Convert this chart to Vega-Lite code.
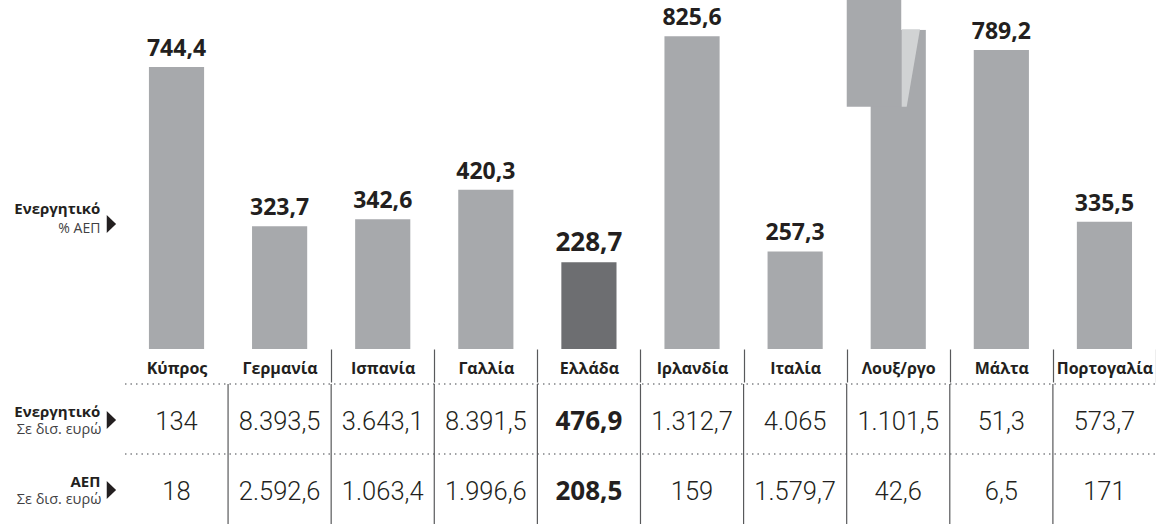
{
  "$schema": "https://vega.github.io/schema/vega-lite/v6.json",
  "padding": 0,
  "spacing": 0,
  "background": "white",
  "config": {
    "view": {"stroke": null},
    "font": "Open Sans",
    "locale": {"number": {"decimal": ",", "thousands": ".", "grouping": [3], "currency": ["", " €"]}}
  },
  "datasets": {
    "c": [
      {"country": "Κύπρος", "pct": 744.4, "assets": 134, "gdp": 18},
      {"country": "Γερμανία", "pct": 323.7, "assets": 8393.5, "gdp": 2592.6},
      {"country": "Ισπανία", "pct": 342.6, "assets": 3643.1, "gdp": 1063.4},
      {"country": "Γαλλία", "pct": 420.3, "assets": 8391.5, "gdp": 1996.6},
      {"country": "Ελλάδα", "pct": 228.7, "assets": 476.9, "gdp": 208.5},
      {"country": "Ιρλανδία", "pct": 825.6, "assets": 1312.7, "gdp": 159},
      {"country": "Ιταλία", "pct": 257.3, "assets": 4065, "gdp": 1579.7},
      {"country": "Λουξ/ργο", "pct": 2585.7, "assets": 1101.5, "gdp": 42.6},
      {"country": "Μάλτα", "pct": 789.2, "assets": 51.3, "gdp": 6.5},
      {"country": "Πορτογαλία", "pct": 335.5, "assets": 573.7, "gdp": 171}
    ],
    "lab": [
      {"section": "top", "row": "", "head": "Ενεργητικό", "sub": "% ΑΕΠ"},
      {"section": "table", "row": "assets", "head": "Ενεργητικό", "sub": "Σε δισ. ευρώ"},
      {"section": "table", "row": "gdp", "head": "ΑΕΠ", "sub": "Σε δισ. ευρώ"}
    ]
  },
  "vconcat": [
    {
      "width": 1156,
      "height": 349,
      "layer": [
        {
          "data": {"name": "c"},
          "mark": {"type": "bar", "width": {"band": 0.535}, "clip": true},
          "encoding": {
            "x": {
              "field": "country", "type": "nominal", "sort": null,
              "scale": {"domain": ["_lbl", "Κύπρος", "Γερμανία", "Ισπανία", "Γαλλία", "Ελλάδα", "Ιρλανδία", "Ιταλία", "Λουξ/ργο", "Μάλτα", "Πορτογαλία"], "paddingInner": 0, "paddingOuter": 0.106, "align": 1},
              "axis": {
                "title": null, "domain": false, "grid": false, "labelAngle": 0,
                "labelFont": "Open Sans", "labelFontWeight": "bold", "labelFontSize": 16, "labelColor": "#231f20",
                "labelBaseline": "alphabetic", "labelPadding": -9, "labelOverlap": false, "labelFlush": false, "labelBound": false,
                "labelExpr": "datum.value === '_lbl' ? '' : datum.label",
                "tickSize": 33, "tickBand": "extent", "tickWidth": 1.2,
                "tickColor": {"condition": {"test": "datum.value === '_lbl' || datum.value === 'Κύπρος' || !datum.value", "value": "transparent"}, "value": "#58595b"}
              }
            },
            "y": {"field": "pct", "type": "quantitative", "scale": {"domain": [0, 921], "nice": false, "clamp": true}, "axis": null},
            "color": {"condition": {"test": "datum.country === 'Ελλάδα'", "value": "#6d6e71"}, "value": "#a7a9ac"}
          }
        },
        {
          "data": {"name": "c"},
          "transform": [{"filter": "datum.country === 'Λουξ/ργο'"}],
          "mark": {"type": "bar", "width": 55, "xOffset": -24, "color": "#a7a9ac"},
          "encoding": {
            "x": {"field": "country", "type": "nominal"},
            "y": {"datum": 639, "type": "quantitative"},
            "y2": {"datum": 921}
          }
        },
        {
          "data": {"name": "c"},
          "transform": [{"filter": "datum.country === 'Λουξ/ργο'"}],
          "mark": {"type": "bar", "width": 25, "xOffset": 15.5, "color": "white"},
          "encoding": {
            "x": {"field": "country", "type": "nominal"},
            "y": {"datum": 842, "type": "quantitative"},
            "y2": {"datum": 921}
          }
        },
        {
          "data": {"name": "c"},
          "transform": [{"filter": "datum.country === 'Λουξ/ργο'"}],
          "mark": {"type": "point", "filled": true, "opacity": 1, "color": "#d1d3d4", "size": 6000, "xOffset": 12.6, "shape": "M -0.236 -1 L 0.236 -1 L -0.107 1 L -0.236 1 Z"},
          "encoding": {
            "x": {"field": "country", "type": "nominal"},
            "y": {"datum": 741.8, "type": "quantitative"}
          }
        },
        {
          "data": {"name": "c"},
          "transform": [{"filter": "datum.country !== 'Λουξ/ργο' && datum.country !== 'Ελλάδα'"}],
          "mark": {"type": "text", "baseline": "alphabetic", "dy": -11, "font": "Open Sans", "fontWeight": "bold", "fontSize": 23, "color": "#231f20"},
          "encoding": {
            "x": {"field": "country", "type": "nominal"},
            "y": {"field": "pct", "type": "quantitative"},
            "text": {"field": "pct", "type": "quantitative", "format": ",.1f"}
          }
        },
        {
          "data": {"name": "c"},
          "transform": [{"filter": "datum.country === 'Ελλάδα'"}],
          "mark": {"type": "text", "baseline": "alphabetic", "dy": -11, "font": "Open Sans", "fontWeight": "bold", "fontSize": 26, "color": "#231f20"},
          "encoding": {
            "x": {"field": "country", "type": "nominal"},
            "y": {"field": "pct", "type": "quantitative"},
            "text": {"field": "pct", "type": "quantitative", "format": ",.1f"}
          }
        },
        {
          "data": {"name": "lab"},
          "transform": [{"filter": "datum.section === 'top'"}],
          "mark": {"type": "text", "align": "right", "baseline": "alphabetic", "dx": 27, "dy": -7, "font": "Open Sans", "fontWeight": "bold", "fontSize": 15, "color": "#231f20"},
          "encoding": {
            "x": {"datum": "_lbl", "type": "nominal"},
            "y": {"datum": 339, "type": "quantitative"},
            "text": {"field": "head"}
          }
        },
        {
          "data": {"name": "lab"},
          "transform": [{"filter": "datum.section === 'top'"}],
          "mark": {"type": "text", "align": "right", "baseline": "alphabetic", "dx": 27, "dy": 12, "font": "Open Sans", "fontSize": 14, "color": "#414042"},
          "encoding": {
            "x": {"datum": "_lbl", "type": "nominal"},
            "y": {"datum": 339, "type": "quantitative"},
            "text": {"field": "sub"}
          }
        },
        {
          "data": {"name": "lab"},
          "transform": [{"filter": "datum.section === 'top'"}],
          "mark": {"type": "point", "filled": true, "opacity": 1, "color": "#231f20", "size": 324, "xOffset": 38, "yOffset": 3.4, "shape": "M -0.52 -1 L 0.52 0 L -0.52 1 Z"},
          "encoding": {
            "x": {"datum": "_lbl", "type": "nominal"},
            "y": {"datum": 339, "type": "quantitative"}
          }
        }
      ]
    },
    {
      "width": 1156,
      "height": 140,
      "layer": [
        {
          "data": {"name": "lab"},
          "transform": [{"filter": "datum.section === 'table'"}],
          "mark": {"type": "rule", "color": "#808285", "strokeWidth": 1.5, "strokeDash": [1.5, 4]},
          "encoding": {
            "x": {"datum": "Κύπρος", "type": "nominal", "bandPosition": 0,
              "scale": {"domain": ["_lbl", "Κύπρος", "Γερμανία", "Ισπανία", "Γαλλία", "Ελλάδα", "Ιρλανδία", "Ιταλία", "Λουξ/ργο", "Μάλτα", "Πορτογαλία"], "paddingInner": 0, "paddingOuter": 0.106, "align": 1},
              "axis": null},
            "x2": {"value": "width"},
            "y": {"field": "row", "type": "nominal", "bandPosition": 0, "scale": {"domain": ["assets", "gdp"], "paddingInner": 0, "paddingOuter": 0}, "axis": null}
          }
        },
        {
          "data": {"name": "c"},
          "transform": [{"filter": "datum.country !== 'Κύπρος'"}],
          "mark": {"type": "rule", "color": "#58595b", "strokeWidth": 1.2},
          "encoding": {
            "x": {"field": "country", "type": "nominal", "bandPosition": 0}
          }
        },
        {
          "data": {"name": "c"},
          "transform": [
            {"fold": ["assets", "gdp"], "as": ["row", "val"]},
            {"filter": "datum.country !== 'Ελλάδα'"}
          ],
          "mark": {"type": "text", "baseline": "alphabetic", "dy": 11, "font": "Roboto", "fontWeight": 300, "fontSize": 25.5, "color": "#231f20"},
          "encoding": {
            "x": {"field": "country", "type": "nominal"},
            "y": {"field": "row", "type": "nominal"},
            "text": {"field": "val", "type": "quantitative", "format": ",.1~f"}
          }
        },
        {
          "data": {"name": "c"},
          "transform": [
            {"fold": ["assets", "gdp"], "as": ["row", "val"]},
            {"filter": "datum.country === 'Ελλάδα'"}
          ],
          "mark": {"type": "text", "baseline": "alphabetic", "dy": 11, "font": "Open Sans", "fontWeight": "bold", "fontSize": 26, "color": "#231f20"},
          "encoding": {
            "x": {"field": "country", "type": "nominal"},
            "y": {"field": "row", "type": "nominal"},
            "text": {"field": "val", "type": "quantitative", "format": ",.1~f"}
          }
        },
        {
          "data": {"name": "lab"},
          "transform": [{"filter": "datum.section === 'table'"}],
          "mark": {"type": "text", "align": "right", "baseline": "alphabetic", "dx": 27, "dy": -2.5, "font": "Open Sans", "fontWeight": "bold", "fontSize": 15, "color": "#231f20"},
          "encoding": {
            "x": {"datum": "_lbl", "type": "nominal"},
            "y": {"field": "row", "type": "nominal"},
            "text": {"field": "head"}
          }
        },
        {
          "data": {"name": "lab"},
          "transform": [{"filter": "datum.section === 'table'"}],
          "mark": {"type": "text", "align": "right", "baseline": "alphabetic", "dx": 28, "dy": 15, "font": "Open Sans", "fontSize": 14.5, "color": "#414042"},
          "encoding": {
            "x": {"datum": "_lbl", "type": "nominal"},
            "y": {"field": "row", "type": "nominal"},
            "text": {"field": "sub"}
          }
        },
        {
          "data": {"name": "lab"},
          "transform": [{"filter": "datum.section === 'table'"}],
          "mark": {"type": "point", "filled": true, "opacity": 1, "color": "#231f20", "size": 324, "xOffset": 38, "yOffset": 1, "shape": "M -0.52 -1 L 0.52 0 L -0.52 1 Z"},
          "encoding": {
            "x": {"datum": "_lbl", "type": "nominal"},
            "y": {"field": "row", "type": "nominal"}
          }
        }
      ]
    }
  ]
}
